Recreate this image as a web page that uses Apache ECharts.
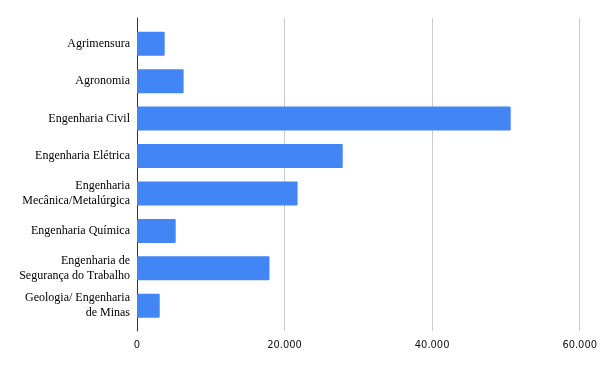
<!DOCTYPE html>
<html>
<head>
<meta charset="utf-8">
<script src="https://cdn.jsdelivr.net/npm/echarts@6/dist/echarts.min.js"></script>
<style>html,body{margin:0;padding:0;background:#fff}#c{width:600px;height:371px}</style>
</head>
<body>
<div id="c"></div>
<script>
const categories = [
  "Agrimensura",
  "Agronomia",
  "Engenharia Civil",
  "Engenharia Elétrica",
  "Engenharia\nMecânica/Metalúrgica",
  "Engenharia Química",
  "Engenharia de\nSegurança do Trabalho",
  "Geologia/ Engenharia\nde Minas"
];
const values = [3740, 6300, 50500, 27800, 21700, 5230, 17900, 3070];
const xMin = 0, xMax = 60000, xStep = 20000;

const chart = echarts.init(document.getElementById('c'), null, {renderer: 'canvas'});
chart.setOption({
  animation: false,
  grid: [
    {left: 137, right: 19, top: 18, bottom: 40, containLabel: false},
    {left: 137, right: 19, top: 25, bottom: 46.5, containLabel: false}
  ],
  xAxis: [{
    gridIndex: 0, type: 'value', min: xMin, max: xMax, interval: xStep,
    axisLine: {show: false}, axisTick: {show: false},
    splitLine: {show: true, lineStyle: {color: '#cccccc', width: 1}},
    axisLabel: {
      margin: 9, color: '#111', fontSize: 11, fontWeight: 'normal condensed',
      fontFamily: '"Liberation Sans Narrow", "DejaVu Sans Condensed", "DejaVu Sans", sans-serif',
      formatter: v => v === 0 ? '0' : v.toLocaleString('de-DE')
    }
  }, {
    gridIndex: 1, type: 'value', min: xMin, max: xMax, interval: xStep,
    show: false
  }],
  yAxis: [{
    gridIndex: 0, type: 'value', min: 0, max: 1,
    splitLine: {show: false}, axisTick: {show: false}, axisLabel: {show: false},
    axisLine: {show: true, onZero: false, lineStyle: {color: '#333', width: 1}}
  }, {
    gridIndex: 1, type: 'category', inverse: true, data: categories,
    axisLine: {show: false}, axisTick: {show: false}, splitLine: {show: false},
    axisLabel: {
      margin: 7, color: '#000', fontSize: 12, lineHeight: 15,
      fontFamily: '"Liberation Serif", "Times New Roman", serif',
      align: 'right'
    }
  }],
  series: [{
    type: 'bar',
    xAxisIndex: 1, yAxisIndex: 1,
    barWidth: 24,
    itemStyle: {color: '#4285F4', borderRadius: 1},
    data: values
  }]
});
</script>
</body>
</html>
